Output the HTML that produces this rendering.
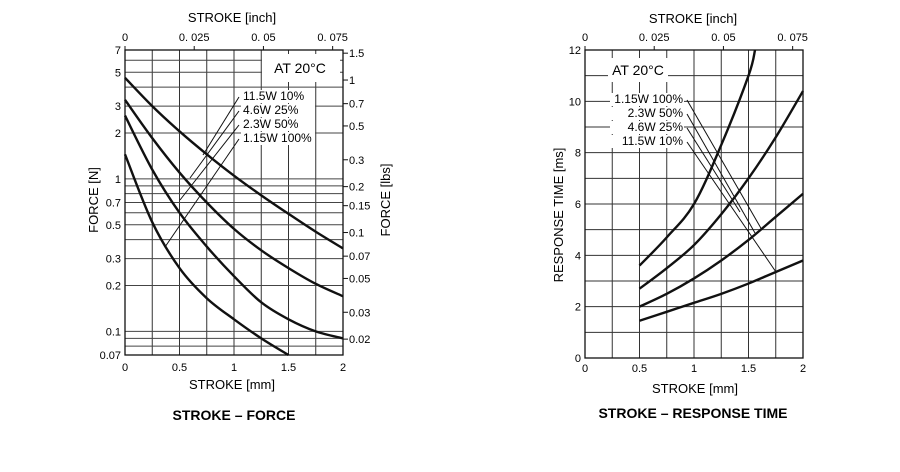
<!DOCTYPE html>
<html><head><meta charset="utf-8"><style>
body{margin:0;background:#fff}
svg{display:block;font-family:"Liberation Sans",sans-serif}
</style></head><body>
<svg width="900" height="472" viewBox="0 0 900 472" xmlns="http://www.w3.org/2000/svg">
<g id="left"></g>
<g id="right"></g>
</svg>
<script>
const NS='http://www.w3.org/2000/svg';
// Left chart data (stroke mm, force N)
const forceStroke=[0,0.25,0.5,0.75,1,1.25,1.5,1.75,2];
const force10=[4.6,3.0,2.05,1.45,1.05,0.78,0.59,0.45,0.35];
const force25=[3.3,1.85,1.1,0.7,0.47,0.34,0.26,0.205,0.17];
const force50=[2.6,1.15,0.6,0.36,0.23,0.155,0.12,0.1,0.09];
const force100=[1.45,0.52,0.26,0.165,0.12,0.09,0.07];
const forceTicks=[7,5,3,2,1,0.7,0.5,0.3,0.2,0.1,0.07];
const forceGrid=[0.07,0.08,0.09,0.1,0.2,0.3,0.4,0.5,0.6,0.7,0.8,0.9,1,2,3,4,5,6,7];
const lbsTicks=[1.5,1,0.7,0.5,0.3,0.2,0.15,0.1,0.07,0.05,0.03,0.02];
const lbsLabels=['1.5','1','0.7','0.5','0.3','0.2','0.15','0.1','0.07','0.05','0.03','0.02'];
const inchTicks=[0,0.025,0.05,0.075];
const inchLabels=['0','0. 025','0. 05','0. 075'];
const mmTicks=[0,0.5,1,1.5,2];
const mmLabels=['0','0.5','1','1.5','2'];
const forceLegend=['11.5W   10%','4.6W   25%','2.3W   50%','1.15W  100%'];
// Right chart data (stroke mm, response ms)
const rtStroke=[0.5,0.75,1,1.25,1.5,1.56];
const rt100=[3.6,4.7,6.0,8.3,11.0,12];
const rtStroke2=[0.5,0.75,1,1.25,1.5,1.75,2];
const rt50=[2.7,3.5,4.4,5.6,7.0,8.6,10.4];
const rt25=[2.0,2.5,3.1,3.8,4.6,5.5,6.4];
const rt10=[1.45,1.8,2.15,2.5,2.9,3.35,3.8];
const rtTicks=[0,2,4,6,8,10,12];
const rtLegend=['1.15W  100%','2.3W   50%','4.6W   25%','11.5W   10%'];

function el(p,t,a,txt){const e=document.createElementNS(NS,t);for(const k in a)e.setAttribute(k,a[k]);if(txt!=null)e.textContent=txt;p.appendChild(e);return e;}
function smooth(pts){let d='M'+pts[0][0]+','+pts[0][1];for(let i=0;i<pts.length-1;i++){const p0=pts[i-1]||pts[i],p1=pts[i],p2=pts[i+1],p3=pts[i+2]||p2;d+=' C'+(p1[0]+(p2[0]-p0[0])/6)+','+(p1[1]+(p2[1]-p0[1])/6)+' '+(p2[0]-(p3[0]-p1[0])/6)+','+(p2[1]-(p3[1]-p1[1])/6)+' '+p2[0]+','+p2[1];}return d;}

// LEFT
(function(){
const g=document.getElementById('left');
const X0=125,X1=343,Y0=50,Y1=355;
const x=v=>X0+(X1-X0)*v/2;
const y=v=>Y0+(Y1-Y0)*Math.log10(7/v)/2;
const xi=v=>x(v*25.4);
for(let i=0;i<=8;i++){const l=el(g,'line',{x1:x(i*0.25),x2:x(i*0.25),y1:Y0,y2:Y1,stroke:'#333','stroke-width':1});}
forceGrid.forEach(v=>{const l=el(g,'line',{x1:X0,x2:X1,y1:y(v),y2:y(v),stroke:'#444','stroke-width':1});});
el(g,'rect',{x:X0,y:Y0,width:X1-X0,height:Y1-Y0,fill:'none',stroke:'#111','stroke-width':1.3});
el(g,'rect',{x:262,y:54,width:78,height:28,fill:'#fff'});
const t=el(g,'text',{x:300,y:73,'font-size':14,'text-anchor':'middle'},'AT 20°C');
forceTicks.forEach(v=>{const e=el(g,'text',{x:X0-4,y:y(v)+4,'font-size':11,'text-anchor':'end'},String(v));});
lbsTicks.forEach((v,i)=>{const yy=y(v*4.448);el(g,'line',{x1:X1,x2:X1+5,y1:yy,y2:yy,stroke:'#111'});const e=el(g,'text',{x:X1+6,y:yy+4,'font-size':11},lbsLabels[i]);});
inchTicks.forEach((v,i)=>{el(g,'line',{x1:xi(v),x2:xi(v),y1:Y0,y2:Y0-4,stroke:'#111'});const e=el(g,'text',{x:xi(v),y:41,'font-size':11,'text-anchor':'middle'},inchLabels[i]);});
mmTicks.forEach((v,i)=>{const e=el(g,'text',{x:x(v),y:371,'font-size':11,'text-anchor':'middle'},mmLabels[i]);});
let e;
e=el(g,'text',{x:232,y:22,'font-size':13,'text-anchor':'middle'},'STROKE  [inch]');
e=el(g,'text',{x:232,y:389,'font-size':13,'text-anchor':'middle'},'STROKE  [mm]');
e=el(g,'text',{x:234,y:420,'font-size':14,'font-weight':'bold','text-anchor':'middle'},'STROKE – FORCE');
e=el(g,'text',{x:98,y:200,'font-size':13,'text-anchor':'middle',transform:'rotate(-90 98 200)'},'FORCE  [N]');
e=el(g,'text',{x:390,y:200,'font-size':13,'text-anchor':'middle',transform:'rotate(-90 390 200)'},'FORCE  [lbs]');
[force10,force25,force50,force100].forEach((s,k)=>{const pts=s.map((v,i)=>[x(forceStroke[i]),y(v)]);const p=el(g,'path',{d:smooth(pts),fill:'none',stroke:'#111','stroke-width':2.4});});
const ends=[[203,155],[190,178],[180,200],[165,247]];
forceLegend.forEach((s,i)=>{const yy=100+i*14;el(g,'rect',{x:241,y:yy-10,width:74,height:13,fill:'#fff'});const e=el(g,'text',{x:243,y:yy,'font-size':12,'xml:space':'preserve'},s);el(g,'line',{x1:239,y1:yy-3,x2:ends[i][0],y2:ends[i][1],stroke:'#111','stroke-width':1});});
})();

// RIGHT
(function(){
const g=document.getElementById('right');
const X0=585,X1=803,Y0=50,Y1=358;
const x=v=>X0+(X1-X0)*v/2;
const y=v=>Y1-(Y1-Y0)*v/12;
const xi=v=>x(v*25.4);
for(let i=0;i<=8;i++){const l=el(g,'line',{x1:x(i*0.25),x2:x(i*0.25),y1:Y0,y2:Y1,stroke:'#333'});}
for(let v=0;v<=12;v++){const l=el(g,'line',{x1:X0,x2:X1,y1:y(v),y2:y(v),stroke:'#333'});}
el(g,'rect',{x:X0,y:Y0,width:X1-X0,height:Y1-Y0,fill:'none',stroke:'#111','stroke-width':1.3});
el(g,'rect',{x:608,y:58,width:60,height:24,fill:'#fff'});
let e=el(g,'text',{x:638,y:75,'font-size':14,'text-anchor':'middle'},'AT 20°C');
rtTicks.forEach(v=>{const e=el(g,'text',{x:X0-4,y:y(v)+4,'font-size':11,'text-anchor':'end'},String(v));});
inchTicks.forEach((v,i)=>{el(g,'line',{x1:xi(v),x2:xi(v),y1:Y0,y2:Y0-4,stroke:'#111'});const e=el(g,'text',{x:xi(v),y:41,'font-size':11,'text-anchor':'middle'},inchLabels[i]);});
mmTicks.forEach((v,i)=>{const e=el(g,'text',{x:x(v),y:372,'font-size':11,'text-anchor':'middle'},mmLabels[i]);});
e=el(g,'text',{x:693,y:23,'font-size':13,'text-anchor':'middle'},'STROKE  [inch]');
e=el(g,'text',{x:695,y:393,'font-size':13,'text-anchor':'middle'},'STROKE  [mm]');
e=el(g,'text',{x:693,y:418,'font-size':14,'font-weight':'bold','text-anchor':'middle'},'STROKE – RESPONSE TIME');
e=el(g,'text',{x:563,y:215,'font-size':13,'text-anchor':'middle',transform:'rotate(-90 563 215)'},'RESPONSE TIME  [ms]');
const series=[[rtStroke,rt100],[rtStroke2,rt50],[rtStroke2,rt25],[rtStroke2,rt10]];
series.forEach((s,k)=>{const pts=s[1].map((v,i)=>[x(s[0][i]),y(v)]);const p=el(g,'path',{d:smooth(pts),fill:'none',stroke:'#111','stroke-width':2.4});});
const ends=[[762,230],[755,233],[740,212],[776,272]];
rtLegend.forEach((s,i)=>{const yy=103+i*14;el(g,'rect',{x:610,y:yy-10,width:74,height:13,fill:'#fff'});const e=el(g,'text',{x:683,y:yy,'font-size':12,'text-anchor':'end','xml:space':'preserve'},s);el(g,'line',{x1:687,y1:yy-3,x2:ends[i][0],y2:ends[i][1],stroke:'#111','stroke-width':1});});
})();
</script>
</body></html>
